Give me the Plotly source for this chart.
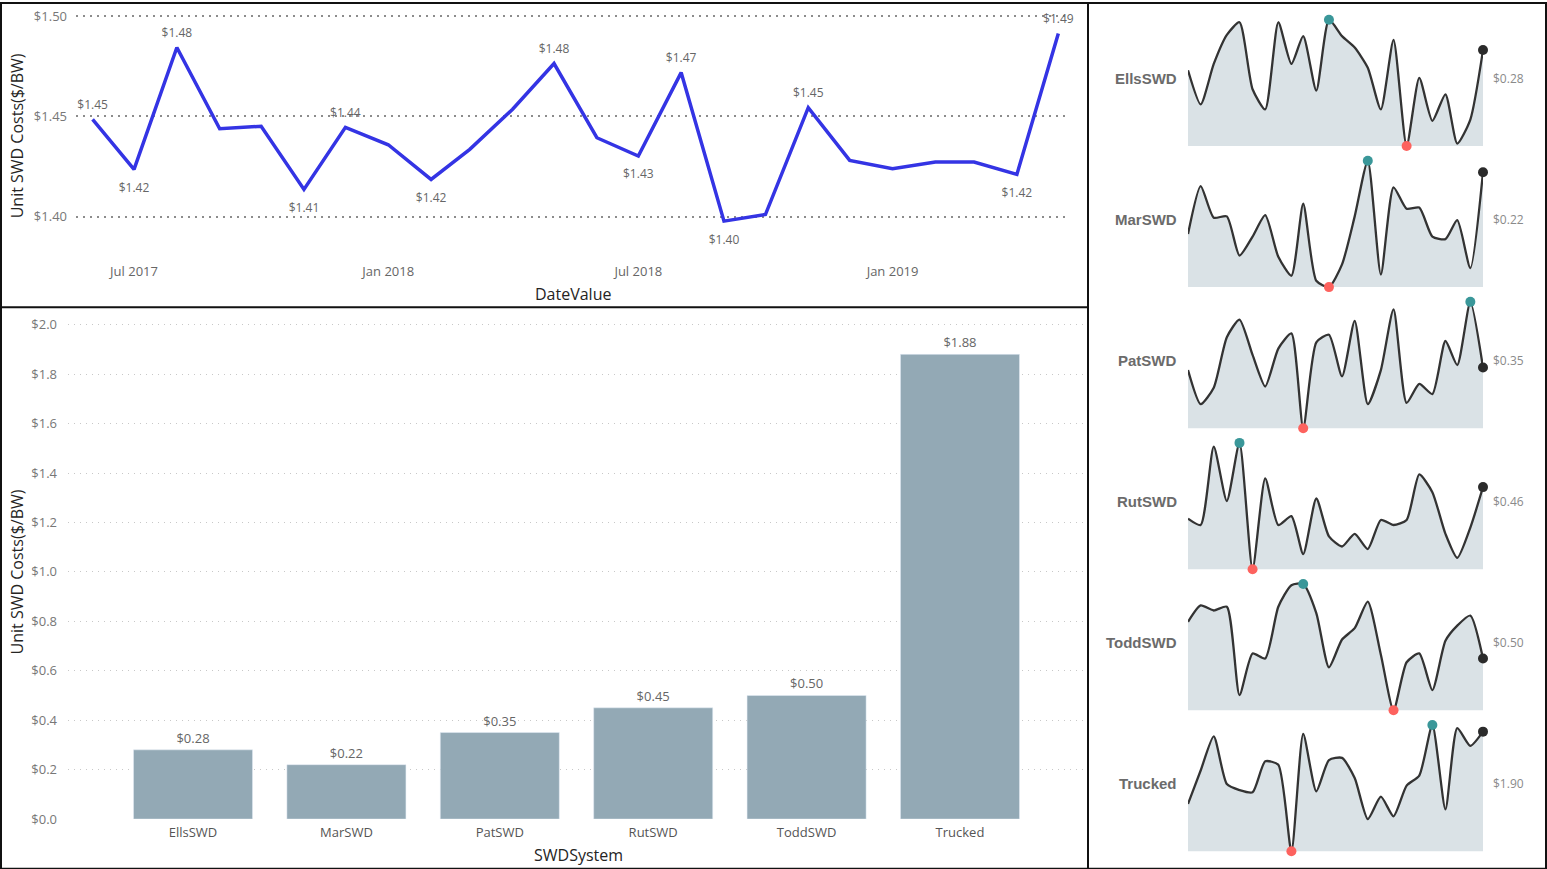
import plotly.graph_objects as go

W, H = 1547, 869
PAGE_H = 879  # the window photo shows page rows 0..879 squeezed into 869

# monthly unit cost, top chart
months = ["2017-06-01", "2017-07-01", "2017-08-01", "2017-09-01", "2017-10-01", "2017-11-01",
          "2017-12-01", "2018-01-01", "2018-02-01", "2018-03-01", "2018-04-01", "2018-05-01",
          "2018-06-01", "2018-07-01", "2018-08-01", "2018-09-01", "2018-10-01", "2018-11-01",
          "2018-12-01", "2019-01-01", "2019-02-01", "2019-03-01", "2019-04-01", "2019-05-01"]
unit_cost = [1.4485, 1.4235, 1.4843, 1.4438, 1.4450, 1.4135, 1.4445, 1.4358, 1.4185, 1.4335,
             1.4535, 1.4763, 1.4393, 1.4302, 1.4718, 1.3977, 1.4010, 1.4543, 1.4280, 1.4238,
             1.4272, 1.4272, 1.4210, 1.4913]
labelled_months = ["2017-06-01", "2017-07-01", "2017-08-01", "2017-11-01", "2017-12-01",
                   "2018-02-01", "2018-05-01", "2018-07-01", "2018-08-01", "2018-09-01",
                   "2018-11-01", "2019-04-01", "2019-05-01"]

# cost by system, bottom chart
systems = ["EllsSWD", "MarSWD", "PatSWD", "RutSWD", "ToddSWD", "Trucked"]
system_cost = [0.28, 0.22, 0.35, 0.45, 0.50, 1.88]

# monthly trend per system, sparklines
ells_trend = [0.264, 0.237, 0.269, 0.292, 0.302, 0.249, 0.233, 0.302, 0.269, 0.291, 0.248, 0.304,
              0.291, 0.282, 0.266, 0.233, 0.288, 0.204, 0.258, 0.224, 0.245, 0.206, 0.225, 0.280]
mar_trend = [0.172, 0.210, 0.185, 0.186, 0.155, 0.170, 0.187, 0.154, 0.139, 0.196, 0.135, 0.130,
             0.148, 0.186, 0.230, 0.140, 0.209, 0.192, 0.193, 0.170, 0.168, 0.183, 0.145, 0.221]
pat_trend = [0.348, 0.321, 0.334, 0.374, 0.388, 0.360, 0.335, 0.365, 0.377, 0.302, 0.370, 0.376,
             0.343, 0.387, 0.321, 0.348, 0.396, 0.322, 0.337, 0.329, 0.371, 0.352, 0.402, 0.350]
rut_trend = [0.436, 0.431, 0.493, 0.450, 0.496, 0.396, 0.468, 0.431, 0.438, 0.408, 0.452, 0.422,
             0.414, 0.424, 0.412, 0.435, 0.431, 0.435, 0.471, 0.457, 0.424, 0.405, 0.429, 0.461]
todd_trend = [0.529, 0.542, 0.538, 0.541, 0.471, 0.504, 0.500, 0.541, 0.558, 0.559, 0.536, 0.493,
              0.515, 0.524, 0.545, 0.503, 0.459, 0.497, 0.504, 0.475, 0.514, 0.526, 0.534, 0.500]
trucked_trend = [1.670, 1.776, 1.884, 1.733, 1.714, 1.707, 1.805, 1.794, 1.520, 1.892, 1.710, 1.809,
                 1.816, 1.752, 1.622, 1.693, 1.631, 1.728, 1.760, 1.920, 1.653, 1.910, 1.854, 1.899]
trends = [ells_trend, mar_trend, pat_trend, rut_trend, todd_trend, trucked_trend]

FONT = "Segoe UI, Open Sans, sans-serif"


def fx(px):
    return px / W


def fy(py):
    # picture row -> paper fraction (photo is offset 3px and squeezed by 0.985)
    return 1 - max(py - 3, 0) / 0.985 / PAGE_H


fig = go.Figure()

# ---- top line chart
fig.add_trace(go.Scatter(
    x=months, y=unit_cost, mode="lines", line=dict(color="#3434e4", width=3.5),
    showlegend=False, xaxis="x", yaxis="y"))

# data labels: peaks above the line, dips below it
above_x, above_y, below_x, below_y = [], [], [], []
for i, (m, v) in enumerate(zip(months, unit_cost)):
    if m not in labelled_months:
        continue
    nb = [unit_cost[j] for j in (i - 1, i + 1) if 0 <= j < len(unit_cost)]
    if v >= sum(nb) / len(nb):
        above_x.append(m)
        above_y.append(v)
    else:
        below_x.append(m)
        below_y.append(v)

for xs, ys, pos, msize in [(above_x, above_y, "top center", 10),
                           (below_x, below_y, "bottom center", 20)]:
    fig.add_trace(go.Scatter(
        x=xs, y=ys, mode="markers+text", text=[f"${v:.2f}" for v in ys], textposition=pos,
        marker=dict(size=msize, opacity=0), hoverinfo="skip",
        textfont=dict(family=FONT, size=12, color="#666666"),
        cliponaxis=False, showlegend=False, xaxis="x", yaxis="y"))

# ---- bottom bar chart
fig.add_trace(go.Bar(
    x=systems, y=system_cost, width=0.776, marker_color="#93a9b5",
    text=[f"${v:.2f}" for v in system_cost], textposition="outside",
    textfont=dict(family=FONT, size=13, color="#666666"),
    cliponaxis=False, showlegend=False, xaxis="x2", yaxis="y2"))

# ---- sparklines
axes = {}
pad = 5
for k, (name, series) in enumerate(zip(systems, trends)):
    n = k + 3
    lo, hi = min(series), max(series)
    top = 20.7 + k * 140.7
    bottom = top + 126
    extra = (hi - lo) * pad / 126
    axes[f"xaxis{n}"] = dict(domain=[fx(1188), fx(1483)], range=[months[0], months[-1]],
                             type="date", visible=False, anchor=f"y{n}")
    axes[f"yaxis{n}"] = dict(domain=[fy(bottom + pad), fy(top - pad)],
                             range=[lo - extra, hi + extra], visible=False, anchor=f"x{n}")
    fig.add_trace(go.Scatter(x=months, y=[lo] * len(series), mode="lines",
                             line=dict(width=0), showlegend=False, hoverinfo="skip",
                             xaxis=f"x{n}", yaxis=f"y{n}"))
    fig.add_trace(go.Scatter(x=months, y=series, mode="lines", fill="tonexty",
                             fillcolor="#dae2e6",
                             line=dict(color="#333333", width=2.3, shape="spline", smoothing=0.6),
                             showlegend=False, xaxis=f"x{n}", yaxis=f"y{n}"))
    i_max = series.index(hi)
    i_min = series.index(lo)
    fig.add_trace(go.Scatter(
        x=[months[i_max], months[i_min], months[-1]],
        y=[hi, lo, series[-1]], mode="markers", cliponaxis=False,
        marker=dict(size=10, color=["#3a9799", "#fd625e", "#2b2b2b"]),
        showlegend=False, xaxis=f"x{n}", yaxis=f"y{n}"))
    fig.add_annotation(x=fx(1179), y=fy(top + 58.5), xref="paper", yref="paper",
                       text=f"<b>{name}</b>", showarrow=False, xanchor="right", yanchor="middle",
                       font=dict(family="Liberation Sans, Arial", size=15, color="#6b6b6b"))
    fig.add_annotation(x=fx(1491), y=fy(top + 58.5), xref="paper", yref="paper",
                       text=f"${series[-1]:.2f}", showarrow=False, xanchor="left", yanchor="middle",
                       font=dict(family=FONT, size=12, color="#8a8a8a"))

# axis titles
for text, x, y, ang in [("DateValue", 573, 294, 0), ("SWDSystem", 578, 854, 0),
                        ("Unit SWD Costs($/BW)", 17, 137, -90),
                        ("Unit SWD Costs($/BW)", 17, 572, -90)]:
    fig.add_annotation(x=fx(x), y=fy(y), xref="paper", yref="paper", text=text,
                       textangle=ang, showarrow=False, xanchor="center", yanchor="middle",
                       font=dict(family=FONT, size=16, color="#252423"))

# panel borders
border = dict(color="#111111", width=2)
fig.add_shape(type="rect", xref="paper", yref="paper", x0=fx(1), x1=fx(1546), y0=fy(867.5),
              y1=1 - 1 / PAGE_H, line=border)
fig.add_shape(type="line", xref="paper", yref="paper", x0=fx(1088), x1=fx(1088), y0=fy(867.5),
              y1=1, line=border)
fig.add_shape(type="line", xref="paper", yref="paper", x0=fx(1), x1=fx(1088), y0=fy(307.5),
              y1=fy(307.5), line=border)

fig.update_layout(
    width=W, height=PAGE_H, margin=dict(l=0, r=0, t=0, b=0),
    paper_bgcolor="white", plot_bgcolor="white", showlegend=False,
    font=dict(family=FONT),
    xaxis=dict(domain=[fx(76), fx(1068)], range=["2017-05-20", "2019-05-08"], type="date",
               tick0="2017-07-01", dtick="M6", tickformat="%b %Y", showgrid=False,
               zeroline=False, ticks="", ticklabelstandoff=4,
               tickfont=dict(family=FONT, size=13, color="#666666"), anchor="y"),
    yaxis=dict(domain=[fy(258), fy(10)], range=[1.3795, 1.5035], tickvals=[1.40, 1.45, 1.50],
               tickformat="$.2f", gridcolor="#8c8c8c", griddash="2px,5px", gridwidth=2,
               zeroline=False, ticks="", ticklabelstandoff=8,
               tickfont=dict(family=FONT, size=13, color="#777777"), anchor="x"),
    xaxis2=dict(domain=[fx(68), fx(1085)], range=[-0.815, 5.815], showgrid=False, ticks="",
                ticklabelstandoff=4,
                tickfont=dict(family=FONT, size=13, color="#555555"), anchor="y2"),
    yaxis2=dict(domain=[fy(818), fy(318)], range=[0, 2.028], dtick=0.2, tickformat="$.1f",
                gridcolor="#c8c8c8", griddash="1px,5px", gridwidth=1, zeroline=False, ticks="",
                ticklabelstandoff=10,
                tickfont=dict(family=FONT, size=13, color="#777777"), anchor="x2"),
    **axes,
)

fit_js = "document.body.style.margin='0';document.body.style.overflow='hidden';"

fig.write_html("out.html", config={"displayModeBar": False}, post_script=fit_js)
